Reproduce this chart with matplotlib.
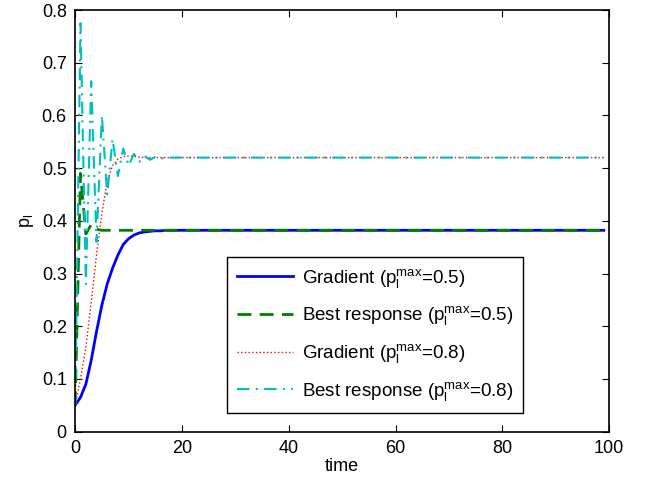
import numpy as np
import matplotlib
matplotlib.use("Agg")
from matplotlib import pyplot as plt

plt.rcParams['font.family'] = ['Liberation Sans', 'DejaVu Sans']
plt.rcParams['mathtext.fontset'] = 'custom'
plt.rcParams['mathtext.rm'] = 'Liberation Sans'
plt.rcParams['mathtext.it'] = 'Liberation Sans:italic'

# time steps 0..99
time = np.arange(0, 100)

grad_05_early = [0.05, 0.065, 0.09, 0.135, 0.19, 0.24, 0.28, 0.31, 0.335, 0.355,
                 0.366, 0.373, 0.377, 0.379, 0.38, 0.381, 0.381, 0.382]
grad_05_final = 0.382
best_05_early = [0.05, 0.49, 0.375, 0.393, 0.384, 0.382]
best_05_final = 0.382
grad_08_early = [0.05, 0.10, 0.16, 0.245, 0.335, 0.414, 0.475, 0.505, 0.517, 0.522,
                 0.523, 0.522, 0.521]
grad_08_final = 0.52
best_08_early = [0.05, 0.775, 0.28, 0.665, 0.36, 0.60, 0.45, 0.555, 0.485, 0.537,
                 0.505, 0.527, 0.512, 0.523, 0.516, 0.521, 0.518, 0.52]
best_08_final = 0.52


def full(early, final):
    return np.array(early + [final] * (len(time) - len(early)))


grad_05 = full(grad_05_early, grad_05_final)
best_05 = full(best_05_early, best_05_final)
grad_08 = full(grad_08_early, grad_08_final)
best_08 = full(best_08_early, best_08_final)

fig = plt.figure(figsize=(6.48, 4.79), dpi=100)
ax = fig.add_axes([0.116, 0.099, 0.824, 0.880])

ax.plot(time, grad_05, '-', color='#0000ff', lw=2,
        label=r'Gradient ($\mathregular{p_l^{max}}$=0.5)')
ax.plot(time, best_05, '--', color='#008000', lw=2, dashes=(5, 3),
        label=r'Best response ($\mathregular{p_l^{max}}$=0.5)')
ax.plot(time, grad_08, ':', color='#ff0000', lw=1,
        label=r'Gradient ($\mathregular{p_l^{max}}$=0.8)')
ax.plot(time, best_08, '-.', color='#00bfbf', lw=1.5, dashes=(6, 3, 1, 3),
        label=r'Best response ($\mathregular{p_l^{max}}$=0.8)')

ax.set_xlim(0, 100)
ax.set_ylim(0, 0.8)
ax.set_xticks([0, 20, 40, 60, 80, 100])
ax.set_yticks([0, 0.1, 0.2, 0.3, 0.4, 0.5, 0.6, 0.7, 0.8])
ax.set_yticklabels(['0', '0.1', '0.2', '0.3', '0.4', '0.5', '0.6', '0.7', '0.8'])
ax.tick_params(direction='in', top=True, right=True, labelsize=13, length=5, pad=6)
for s in ax.spines.values():
    s.set_linewidth(1.2)

ax.set_xlabel('time', fontsize=13, labelpad=1)
ax.set_ylabel(r'$\mathregular{p_l}$', fontsize=13, labelpad=4)

leg = ax.legend(loc='lower right', bbox_to_anchor=(0.839, 0.044), fontsize=13.5,
                fancybox=False, edgecolor='black', framealpha=1, borderaxespad=0,
                handlelength=3.0, handletextpad=0.45, labelspacing=0.78, borderpad=0.55)
leg.get_frame().set_linewidth(1)

fig.savefig('out.png', dpi=100)
